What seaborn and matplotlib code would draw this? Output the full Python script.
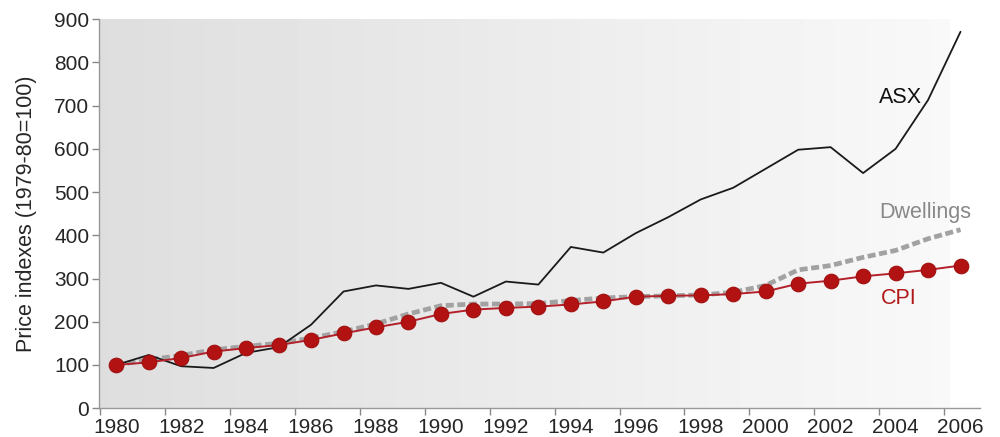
import numpy as np
import pandas as pd
import seaborn as sns
from matplotlib import pyplot as plt

# Financial years (mid-year positions)
years = [1980.5 + i for i in range(27)]

asx = [100, 123, 97, 93, 128, 141, 193, 270, 284, 276, 290, 258, 293, 286,
       373, 360, 405, 442, 483, 510, 554, 598, 604, 544, 600, 713, 871]
dwellings = [100, 112, 122, 135, 143, 150, 162, 177, 195, 218, 237, 241, 241, 242,
             249, 255, 258, 260, 262, 268, 284, 320, 330, 349, 365, 392, 413]
cpi = [100, 106, 116, 131, 139, 146, 158, 173, 187, 200, 218, 228, 232, 235,
       240, 247, 258, 260, 261, 264, 270, 288, 295, 305, 312, 320, 330]

xtick_years = list(range(1980, 2007, 2))
xtick_labels = [str(y) for y in xtick_years]
yticks = list(range(0, 901, 100))

df = pd.DataFrame({'year': years, 'ASX': asx, 'Dwellings': dwellings, 'CPI': cpi})

sns.set_style("ticks")
plt.rcParams['font.family'] = ['Liberation Sans', 'DejaVu Sans']

fig = plt.figure(figsize=(10, 4.37), dpi=100)
ax = fig.add_axes([0.099, 0.066, 0.881, 0.890])

# background gradient (dark on the left, lighter on the right)
grad = np.linspace(0.87, 0.975, 256).reshape(1, -1)
ax.imshow(grad, cmap='gray', vmin=0, vmax=1, aspect='auto',
          extent=[1980, 2006.15, 0, 900], zorder=0)

sns.lineplot(data=df, x='year', y='ASX', color='#1a1a1a', linewidth=1.3, ax=ax, zorder=3)
sns.lineplot(data=df, x='year', y='Dwellings', color='#a2a2a2', linewidth=3.4,
             ax=ax, zorder=2)
ax.lines[-1].set_dashes([1.7, 0.75])
sns.lineplot(data=df, x='year', y='CPI', color='#b3202a', linewidth=1.4, marker='o',
             markersize=10.5, markerfacecolor='#b31212', markeredgecolor='#a00e0e',
             markeredgewidth=0.8, ax=ax, zorder=4)

ax.text(2004.65, 718, 'ASX', color='#111111', fontsize=15.5, ha='center', va='center')
ax.text(2005.4, 453, 'Dwellings', color='#888888', fontsize=15.5, ha='center', va='center')
ax.text(2004.6, 254, 'CPI', color='#b01a1a', fontsize=15.5, ha='center', va='center')

ax.set_xlim(1979.97, 2007.1)
ax.set_ylim(0, 900)
# tick marks at year boundaries, labels centred on the financial year
ax.set_xticks(xtick_years)
ax.set_xticklabels([''] * len(xtick_years))
ax.set_xticks([y + 0.5 for y in xtick_years], minor=True)
ax.set_xticklabels(xtick_labels, minor=True)
ax.tick_params(axis='x', which='minor', length=0, labelsize=15, pad=7)
ax.set_yticks(yticks)
ax.tick_params(which='major', labelsize=15, color='#888888', length=5, width=1, pad=2)
ax.set_xlabel('')
ax.set_ylabel('Price indexes (1979-80=100)', fontsize=15.5, labelpad=12)
ax.set_facecolor('white')
for s in ['top', 'right']:
    ax.spines[s].set_visible(False)
for s in ['left', 'bottom']:
    ax.spines[s].set_color('#999999')
    ax.spines[s].set_linewidth(1)

fig.savefig('out.png', dpi=100)
